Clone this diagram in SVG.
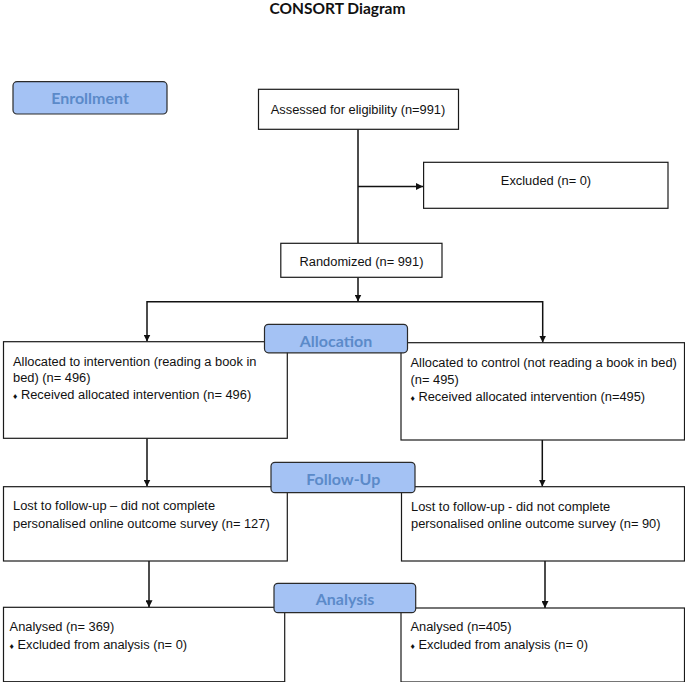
<svg xmlns="http://www.w3.org/2000/svg" width="685" height="682" viewBox="0 0 685 682">
<style>
.bg{fill:#ffffff}
.box{fill:#ffffff;stroke:#1a1a1a;stroke-width:1.2}
.lab{fill:#a4c2f4;stroke:#2a2a2a;stroke-width:1.2}
.lt{font-family:"Lato","Open Sans","Liberation Sans",sans-serif;font-weight:bold;font-size:16px;fill:#5b8ac9;text-anchor:middle}
.t{font-family:"Liberation Sans",Arial,sans-serif;font-size:12.85px;fill:#111111}
.c{text-anchor:middle}
.b{font-size:8.5px}
.title{font-family:"Lato","Open Sans","Liberation Sans",sans-serif;font-weight:bold;font-size:15.5px;fill:#111;text-anchor:middle}
.ln{fill:none;stroke:#111111;stroke-width:1.5}
</style>
<defs>
<marker id="ah" viewBox="0 0 10 10" refX="10" refY="5" markerWidth="7" markerHeight="7" markerUnits="userSpaceOnUse" orient="auto">
<path d="M0,0 L10,5 L0,10 z" fill="#111111"/>
</marker>
</defs>
<rect class="bg" x="0" y="0" width="685" height="682"/>
<text class="title" x="337.5" y="14">CONSORT Diagram</text>

<g id="connectors">
<path class="ln" d="M358,129.5 V243"/>
<path class="ln" d="M358,186.5 H423" marker-end="url(#ah)"/>
<path class="ln" d="M358,277.5 V301.5" marker-end="url(#ah)"/>
<path class="ln" d="M147,301.7 H542.7"/>
<path class="ln" d="M147,301 V341.5" marker-end="url(#ah)"/>
<path class="ln" d="M542.7,301 V342.5" marker-end="url(#ah)"/>
<path class="ln" d="M147,438.5 V486.5" marker-end="url(#ah)"/>
<path class="ln" d="M542.3,440 V486.5" marker-end="url(#ah)"/>
<path class="ln" d="M149,561 V607.3" marker-end="url(#ah)"/>
<path class="ln" d="M545,561 V608" marker-end="url(#ah)"/>
</g>

<g id="assessed">
<rect class="box" x="258.5" y="89.3" width="200" height="40"/>
<text class="t c" x="358" y="113.5">Assessed for eligibility (n=991)</text>
</g>
<g id="excluded">
<rect class="box" x="423.6" y="162.3" width="244.4" height="46"/>
<text class="t c" x="546" y="185">Excluded (n= 0)</text>
</g>
<g id="randomized">
<rect class="box" x="280.8" y="243.3" width="161.2" height="34"/>
<text class="t c" x="361.5" y="265.5">Randomized (n= 991)</text>
</g>

<g id="alloc-left">
<rect class="box" x="3.5" y="341.7" width="283.8" height="96.6"/>
<text class="t" x="13" y="365.5">Allocated to intervention (reading a book in</text>
<text class="t" x="13" y="381.5">bed) (n= 496)</text>
<text class="t" x="13" y="399.3"><tspan class="b">♦</tspan> Received allocated intervention (n= 496)</text>
</g>
<g id="alloc-right">
<rect class="box" x="401" y="342.7" width="283.5" height="97.3"/>
<text class="t" x="410.5" y="367">Allocated to control (not reading a book in bed)</text>
<text class="t" x="410.5" y="384">(n= 495)</text>
<text class="t" x="410.5" y="401"><tspan class="b">♦</tspan> Received allocated intervention (n=495)</text>
</g>

<g id="lost-left">
<rect class="box" x="3.5" y="486.7" width="283.8" height="74.3"/>
<text class="t" x="13" y="510.3">Lost to follow-up – did not complete</text>
<text class="t" x="13" y="527.8">personalised online outcome survey (n= 127)</text>
</g>
<g id="lost-right">
<rect class="box" x="401.5" y="486.7" width="283" height="74.3"/>
<text class="t" x="411" y="510.8">Lost to follow-up - did not complete</text>
<text class="t" x="411" y="527.8">personalised online outcome survey (n= 90)</text>
</g>

<g id="analysed-left">
<rect class="box" x="3.5" y="607.3" width="281.2" height="74.4"/>
<text class="t" x="9.6" y="631.3">Analysed (n= 369)</text>
<text class="t" x="9.6" y="649.3"><tspan class="b">♦</tspan> Excluded from analysis (n= 0)</text>
</g>
<g id="analysed-right">
<rect class="box" x="401" y="608" width="283.5" height="74"/>
<text class="t" x="410.5" y="631.3">Analysed (n=405)</text>
<text class="t" x="410.5" y="649.3"><tspan class="b">♦</tspan> Excluded from analysis (n= 0)</text>
</g>

<g id="enrollment">
<rect class="lab" x="13" y="81.7" width="154" height="32.3" rx="4"/>
<text class="lt" x="90" y="103.8">Enrollment</text>
</g>
<g id="allocation">
<rect class="lab" x="264.5" y="324.3" width="143" height="28.5" rx="4"/>
<text class="lt" x="336" y="346.8">Allocation</text>
</g>
<g id="follow-up">
<rect class="lab" x="271" y="462.3" width="144" height="30.4" rx="4"/>
<text class="lt" x="343.3" y="484.8">Follow-Up</text>
</g>
<g id="analysis">
<rect class="lab" x="274" y="583.3" width="141.7" height="29.4" rx="4"/>
<text class="lt" x="345" y="605.3">Analysis</text>
</g>
</svg>
